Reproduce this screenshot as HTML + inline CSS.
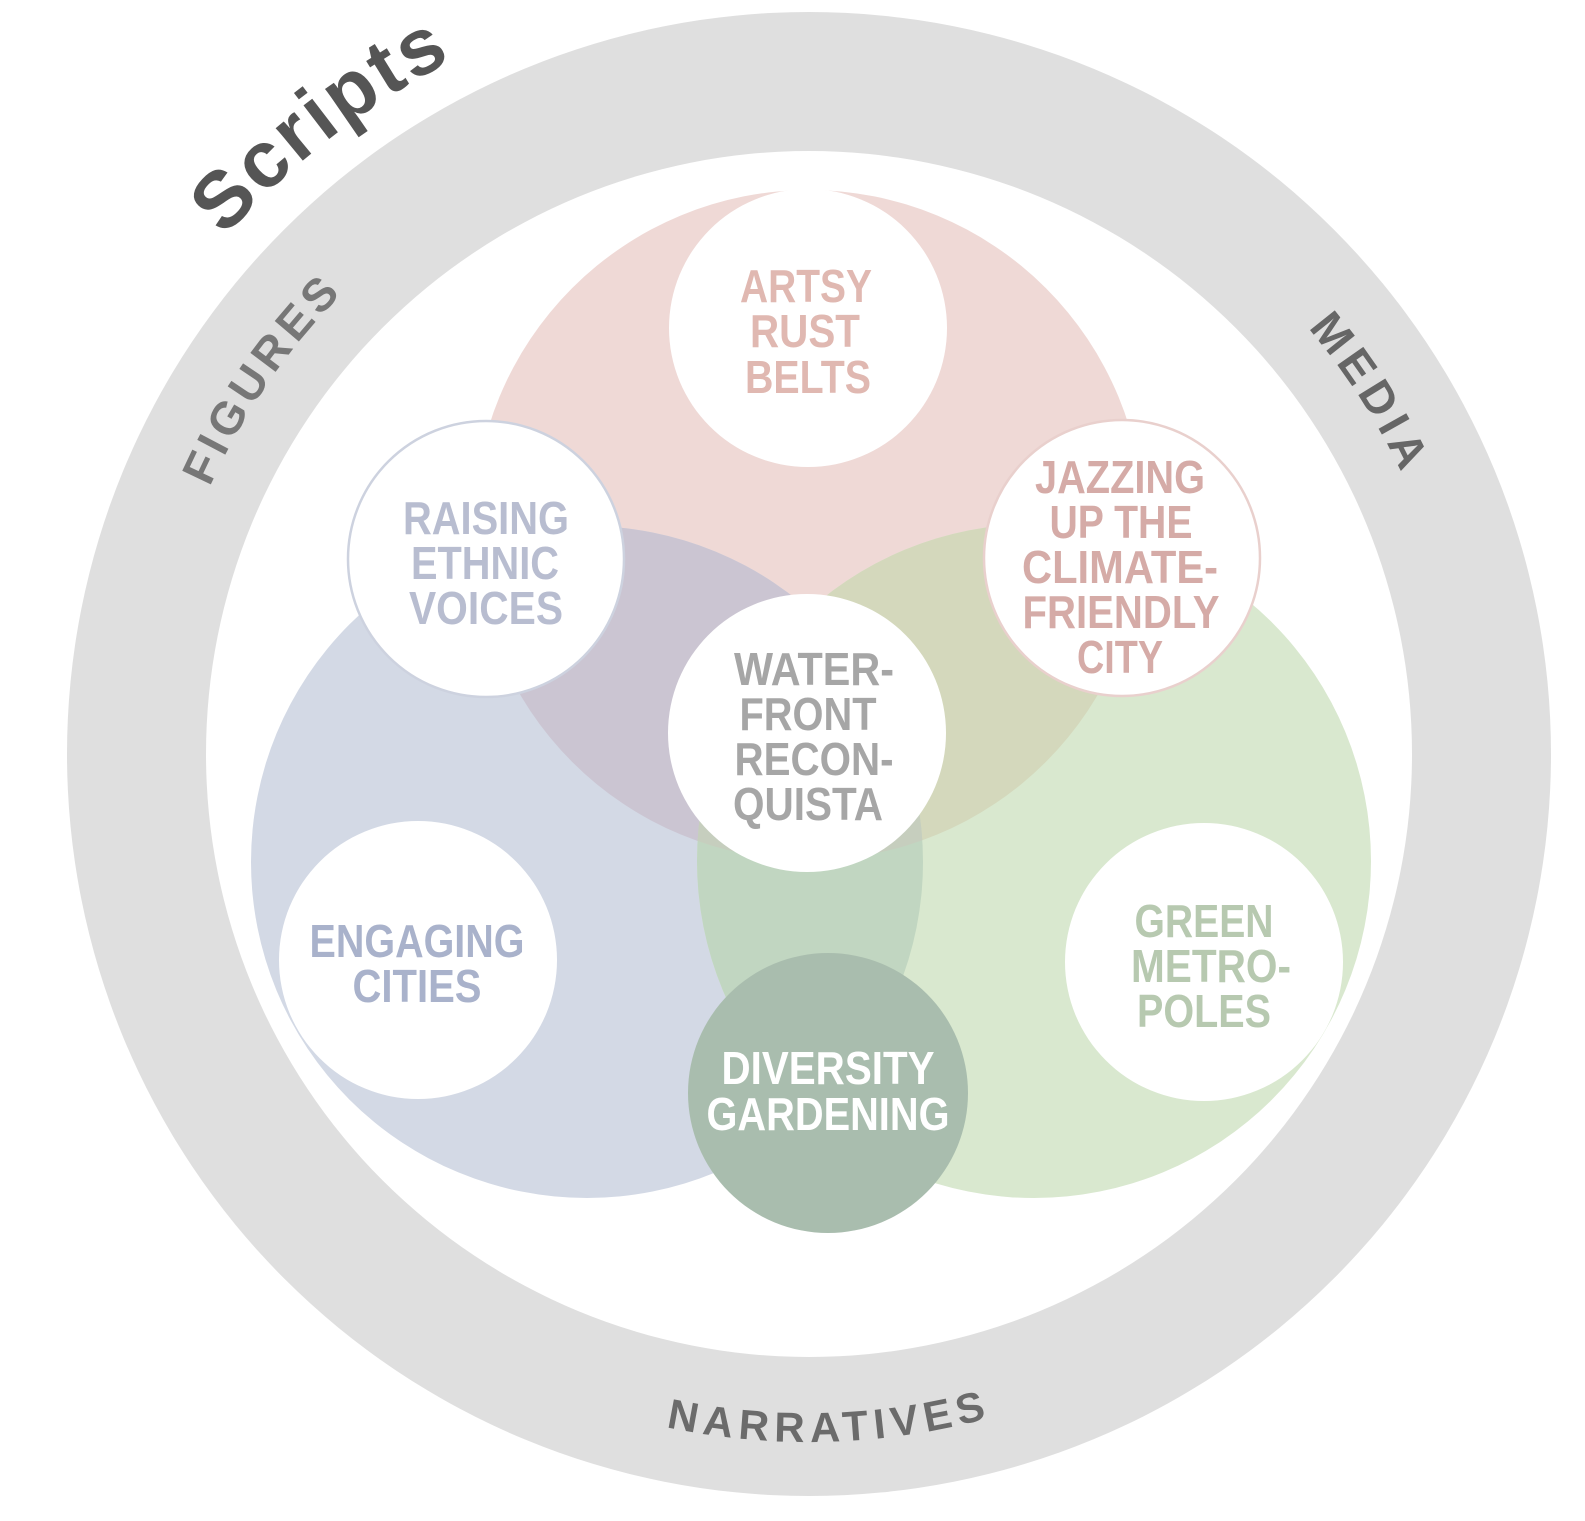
<!DOCTYPE html>
<html>
<head>
<meta charset="utf-8">
<style>
  html, body { margin: 0; padding: 0; background: #ffffff; }
  svg { display: block; }
  text { font-family: "Liberation Sans", Arial, sans-serif; }
</style>
</head>
<body>
<svg width="1585" height="1521" viewBox="0 0 1585 1521" xmlns="http://www.w3.org/2000/svg">
  <defs>
    <clipPath id="cR"><circle cx="809" cy="525" r="335"/></clipPath>
    <clipPath id="cB"><circle cx="587" cy="862" r="336"/></clipPath>
    <clipPath id="cG"><circle cx="1034" cy="861" r="337"/></clipPath>
    <path id="pScripts" d="M 224.8 237.2 A 780 780 0 0 1 741 -23"/>
    <path id="pFigures" d="M 209.7 487.2 A 656 656 0 0 1 585 138"/>
    <path id="pMedia" d="M 1307.8 328 A 656 656 0 0 1 1455 868"/>
    <path id="pNarr" d="M 666 1427 A 688 688 0 0 0 1336 1196"/>
  </defs>

  <rect width="1585" height="1521" fill="#ffffff"/>

  <!-- outer ring -->
  <circle cx="809" cy="754" r="742" fill="#dfdfdf"/>
  <circle cx="809" cy="754" r="603" fill="#ffffff"/>

  <!-- big venn circles -->
  <circle cx="809" cy="525" r="335" fill="#efd9d6"/>
  <circle cx="587" cy="862" r="336" fill="#d3d9e5"/>
  <circle cx="1034" cy="861" r="337" fill="#d9e8cf"/>
  <!-- intersections -->
  <circle cx="587" cy="862" r="336" fill="#cbc5d2" clip-path="url(#cR)"/>
  <circle cx="1034" cy="861" r="337" fill="#d4d8bc" clip-path="url(#cR)"/>
  <circle cx="1034" cy="861" r="337" fill="#c1d6c1" clip-path="url(#cB)"/>
  <g clip-path="url(#cR)">
    <circle cx="1034" cy="861" r="337" fill="#c6cebe" clip-path="url(#cB)"/>
  </g>

  <!-- node circles -->
  <circle cx="808" cy="328" r="139" fill="#ffffff"/>
  <circle cx="486" cy="559" r="138" fill="#ffffff" stroke="#cdd2df" stroke-width="2.5"/>
  <circle cx="1122" cy="558" r="138" fill="#ffffff" stroke="#e9d0cd" stroke-width="2.5"/>
  <circle cx="807" cy="733" r="139" fill="#ffffff"/>
  <circle cx="418" cy="960" r="139" fill="#ffffff"/>
  <circle cx="1204" cy="962" r="139" fill="#ffffff"/>
  <circle cx="828" cy="1093" r="140" fill="#a9bdae"/>

  <!-- node labels -->
  <g font-size="46" font-weight="bold" text-anchor="middle">
    <g fill="#e0b8b1">
      <text x="806" y="302" textLength="132" lengthAdjust="spacingAndGlyphs">ARTSY</text>
      <text x="805" y="347" textLength="110" lengthAdjust="spacingAndGlyphs">RUST</text>
      <text x="808" y="393" textLength="126" lengthAdjust="spacingAndGlyphs">BELTS</text>
    </g>
    <g fill="#b8bdd0">
      <text x="486" y="534" textLength="166" lengthAdjust="spacingAndGlyphs">RAISING</text>
      <text x="485" y="579" textLength="148" lengthAdjust="spacingAndGlyphs">ETHNIC</text>
      <text x="486" y="624" textLength="154" lengthAdjust="spacingAndGlyphs">VOICES</text>
    </g>
    <g fill="#d5aba7">
      <text x="1120" y="493" textLength="170" lengthAdjust="spacingAndGlyphs">JAZZING</text>
      <text x="1121" y="538" textLength="143" lengthAdjust="spacingAndGlyphs">UP THE</text>
      <text x="1120" y="583" textLength="196" lengthAdjust="spacingAndGlyphs">CLIMATE-</text>
      <text x="1121" y="628" textLength="197" lengthAdjust="spacingAndGlyphs">FRIENDLY</text>
      <text x="1120" y="673" textLength="86" lengthAdjust="spacingAndGlyphs">CITY</text>
    </g>
    <g fill="#a6a6a6">
      <text x="814" y="685" textLength="160" lengthAdjust="spacingAndGlyphs">WATER-</text>
      <text x="808" y="730" textLength="137" lengthAdjust="spacingAndGlyphs">FRONT</text>
      <text x="814" y="775" textLength="159" lengthAdjust="spacingAndGlyphs">RECON-</text>
      <text x="808" y="820" textLength="150" lengthAdjust="spacingAndGlyphs">QUISTA</text>
    </g>
    <g fill="#a9b2cb">
      <text x="417" y="957" textLength="215" lengthAdjust="spacingAndGlyphs">ENGAGING</text>
      <text x="417" y="1002" textLength="129" lengthAdjust="spacingAndGlyphs">CITIES</text>
    </g>
    <g fill="#b7c9b0">
      <text x="1204" y="937" textLength="139" lengthAdjust="spacingAndGlyphs">GREEN</text>
      <text x="1211" y="982" textLength="160" lengthAdjust="spacingAndGlyphs">METRO-</text>
      <text x="1204" y="1027" textLength="134" lengthAdjust="spacingAndGlyphs">POLES</text>
    </g>
    <g fill="#ffffff">
      <text x="828" y="1084" textLength="213" lengthAdjust="spacingAndGlyphs">DIVERSITY</text>
      <text x="828" y="1130" textLength="243" lengthAdjust="spacingAndGlyphs">GARDENING</text>
    </g>
  </g>

  <!-- ring labels -->
  <text font-size="80" font-weight="bold" fill="#555555" letter-spacing="3">
    <textPath href="#pScripts">Scripts</textPath>
  </text>
  <text font-size="46" font-weight="bold" fill="#777777" letter-spacing="5">
    <textPath href="#pFigures">FIGURES</textPath>
  </text>
  <text font-size="46" font-weight="bold" fill="#666666" letter-spacing="6">
    <textPath href="#pMedia">MEDIA</textPath>
  </text>
  <text font-size="42" font-weight="bold" fill="#6b6b6b" letter-spacing="6">
    <textPath href="#pNarr">NARRATIVES</textPath>
  </text>
</svg>
</body>
</html>
